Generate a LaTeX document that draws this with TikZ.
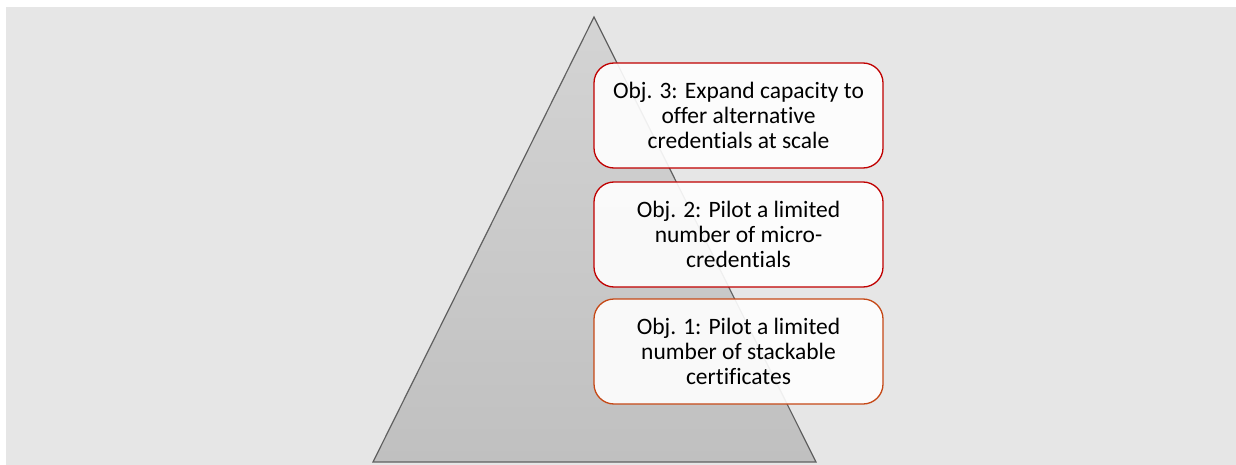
\documentclass[tikz,border=0pt]{standalone}
\usepackage{fontspec}
\setmainfont{Carlito}[Ligatures={NoCommon}]
\begin{document}
\definecolor{bgpanel}{RGB}{230,230,230}
\definecolor{pyrtop}{RGB}{212,212,212}
\definecolor{pyrbot}{RGB}{192,192,192}
\definecolor{pyredge}{RGB}{96,96,96}
\definecolor{objred}{RGB}{192,0,0}
\definecolor{objorange}{RGB}{197,72,22}
\begin{tikzpicture}[x=1pt,y=-1pt,
  objbox/.style={draw, line width=1.3pt, fill=white, fill opacity=0.9, text opacity=1,
    rounded corners=20pt, minimum width=289pt, minimum height=105pt,
    align=center, inner sep=0pt, text=black,
    font=\fontsize{23.5}{25}\selectfont},
  pyramid/.style={draw=pyredge, line width=1.2pt, line join=miter,
    top color=pyrtop, bottom color=pyrbot}]
  % canvas and grey panel
  \useasboundingbox (0,0) rectangle (1236,465);
  \fill[white] (0,0) rectangle (1236,465);
  \fill[bgpanel] (6,7) rectangle (1236,465);
  % pyramid
  \coordinate (apex) at (594,17);
  \coordinate (baseL) at (373,462);
  \coordinate (baseR) at (816,462);
  \shade[pyramid] (apex) -- (baseR) -- (baseL) -- cycle;
  % objectives
  \node[objbox, draw=objred] (obj3) at (738.5,115.5)
    {Obj. 3: Expand capacity to\\offer alternative\\credentials at scale};
  \node[objbox, draw=objred] (obj2) at (738.5,234.5)
    {Obj. 2: Pilot a limited\\number of micro-\\credentials};
  \node[objbox, draw=objorange] (obj1) at (738.5,351.5)
    {Obj. 1: Pilot a limited\\number of stackable\\certificates};
\end{tikzpicture}
\end{document}
